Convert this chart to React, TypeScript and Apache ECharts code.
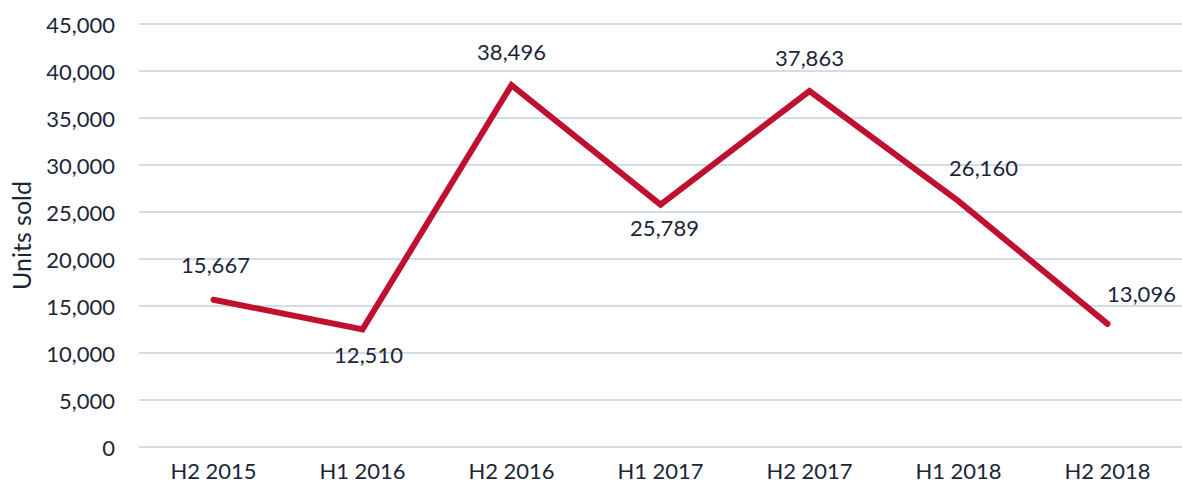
import React, { useEffect, useRef } from "react";
import * as echarts from "echarts";

const categories = ["H2 2015", "H1 2016", "H2 2016", "H1 2017", "H2 2017", "H1 2018", "H2 2018"];
const unitsSold = [15667, 12510, 38496, 25789, 37863, 26160, 13096];
const yTicks = { min: 0, max: 45000, interval: 5000 };

const FONT = "Lato, 'Noto Sans', sans-serif";
const TEXT = "#1c2538";
const RED = "#c0102f";

// label placement per point (styling only)
const labelStyles = [
  { position: "top", distance: 22, offset: [2, 0] },
  { position: "bottom", distance: 12, offset: [6, 0] },
  { position: "top", distance: 22, offset: [0, 2] },
  { position: "bottom", distance: 12, offset: [4, -3] },
  { position: "top", distance: 22, offset: [0, 2] },
  { position: "top", distance: 22, offset: [25, 2] },
  { position: "top", distance: 22, offset: [34, 5] },
];

export default function App() {
  const ref = useRef<HTMLDivElement>(null);
  useEffect(() => {
    const chart = echarts.init(ref.current!, null, { renderer: "svg" });
    const data = unitsSold.map((v, i) => ({ value: v, label: labelStyles[i] }));
    chart.setOption({
      animation: false,
      grid: { left: 138, right: -4, top: 24, bottom: 45 },
      xAxis: {
        type: "category",
        data: categories,
        boundaryGap: true,
        axisLine: { show: false },
        axisTick: { show: false },
        axisLabel: { color: TEXT, fontSize: 22, fontFamily: FONT, margin: 12 },
      },
      yAxis: {
        type: "value",
        min: yTicks.min,
        max: yTicks.max,
        interval: yTicks.interval,
        name: "Units sold",
        nameLocation: "middle",
        nameGap: 106,
        nameTextStyle: { color: TEXT, fontSize: 25, fontFamily: FONT },
        axisLine: { show: false },
        axisTick: { show: false },
        axisLabel: {
          color: TEXT,
          fontSize: 22,
          fontFamily: FONT,
          margin: 24,
          formatter: (v: number) => v.toLocaleString("en-US"),
        },
        splitLine: { lineStyle: { color: "#d3dcea", width: 2 } },
      },
      series: [
        {
          type: "line",
          data,
          symbol: "circle",
          symbolSize: 5,
          showSymbol: true,
          lineStyle: { color: RED, width: 6, cap: "round", join: "miter" },
          itemStyle: { color: RED, borderWidth: 0 },
          label: {
            show: true,
            color: TEXT,
            fontSize: 22,
            fontFamily: FONT,
            formatter: (p: any) => Number(p.value).toLocaleString("en-US"),
          },
        },
      ],
    });
    return () => chart.dispose();
  }, []);
  return <div ref={ref} style={{ width: 1182, height: 492, position: "absolute", left: 0, top: 0, background: "#fff" }} />;
}
